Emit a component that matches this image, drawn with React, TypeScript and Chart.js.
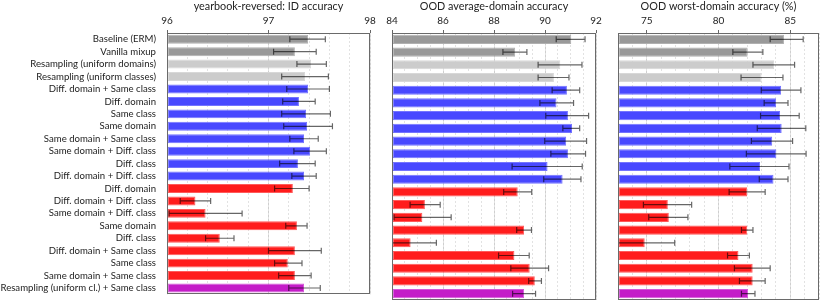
import React, { useEffect, useRef } from 'react';
import { Chart, registerables } from 'chart.js';

Chart.register(...registerables);

const categories = [
  'Baseline (ERM)',
  'Vanilla mixup',
  'Resampling (uniform domains)',
  'Resampling (uniform classes)',
  'Diff. domain + Same class',
  'Diff. domain',
  'Same class',
  'Same domain',
  'Same domain + Same class',
  'Same domain + Diff. class',
  'Diff. class',
  'Diff. domain + Diff. class',
  'Diff. domain',
  'Diff. domain + Diff. class',
  'Same domain + Diff. class',
  'Same domain',
  'Diff. class',
  'Diff. domain + Same class',
  'Same class',
  'Same domain + Same class',
  'Resampling (uniform cl.) + Same class',
];

// group of each row: 0 baseline gray, 1 resampling light gray, 2 blue, 3 red, 4 purple
const rowGroups = [0, 0, 1, 1, 2, 2, 2, 2, 2, 2, 2, 2, 3, 3, 3, 3, 3, 3, 3, 3, 4];
const groupFill = ['#999999', '#cccccc', '#4848ff', '#ff1c1c', '#c41cc8'];
const groupEdge = ['#b0b0b0', '#d8d8d8', '#7474ff', '#ff5a5a', '#d45ad8'];

const idValues = [97.39, 97.26, 97.42, 97.36, 97.39, 97.30, 97.37, 97.38, 97.35, 97.41, 97.29, 97.35, 97.24, 96.28, 96.38, 97.28, 96.52, 97.26, 97.19, 97.26, 97.35];
const idLow = [97.21, 97.05, 97.28, 97.13, 97.18, 97.14, 97.13, 97.15, 97.21, 97.25, 97.11, 97.23, 97.06, 96.13, 96.02, 97.17, 96.38, 97.00, 97.06, 97.10, 97.20];
const idHigh = [97.56, 97.47, 97.57, 97.59, 97.60, 97.46, 97.61, 97.63, 97.49, 97.57, 97.46, 97.47, 97.40, 96.43, 96.74, 97.38, 96.66, 97.52, 97.33, 97.42, 97.51];

const avgValues = [91.03, 88.83, 90.60, 90.35, 90.86, 90.45, 90.90, 91.06, 90.83, 90.90, 90.10, 90.69, 88.93, 85.29, 85.19, 89.18, 84.73, 88.80, 89.40, 89.60, 89.18];
const avgLow = [90.44, 88.35, 89.73, 89.73, 90.28, 89.80, 90.03, 90.70, 89.99, 90.23, 88.71, 89.95, 88.38, 84.71, 84.08, 88.89, 83.72, 88.18, 88.66, 89.36, 88.73];
const avgHigh = [91.57, 89.29, 91.45, 90.94, 91.36, 91.12, 91.71, 91.36, 91.63, 91.59, 91.46, 91.41, 89.48, 85.89, 86.32, 89.47, 85.74, 89.38, 90.14, 89.86, 89.63];

const worstValues = [84.56, 82.03, 83.87, 83.00, 84.36, 84.01, 84.29, 84.40, 83.74, 84.03, 82.89, 83.83, 82.00, 76.47, 76.54, 82.00, 74.86, 81.39, 82.38, 82.38, 82.06];
const worstLow = [83.60, 81.00, 82.40, 81.57, 82.98, 83.18, 82.93, 82.70, 82.29, 81.94, 80.79, 82.84, 80.74, 74.77, 75.14, 81.60, 72.77, 80.63, 81.11, 81.46, 81.60];
const worstHigh = [85.90, 83.09, 85.30, 84.49, 85.74, 84.84, 85.62, 86.08, 85.16, 86.10, 84.91, 84.84, 83.25, 78.13, 77.87, 82.40, 76.95, 82.15, 83.60, 83.25, 82.54];

const titles = ['yearbook-reversed: ID accuracy', 'OOD average-domain accuracy', 'OOD worst-domain accuracy (%)'];
const axisMin = [96, 84, 73];
const axisMax = [98, 92, 87];
const majorStep = [1, 2, 5];
const minorStep = [0.2, 0.5, 1];

const W = 822;
const H = 303;
const FONT = "'Lato', 'Liberation Sans', sans-serif";

const errorBarPlugin = {
  id: 'errorBars',
  afterDatasetsDraw(chart: any, _args: any, opts: any) {
    const { ctx, chartArea } = chart;
    const xs = chart.scales.x;
    const ys = chart.scales.y;
    const low: number[] = opts.low || [];
    const high: number[] = opts.high || [];
    ctx.save();
    ctx.beginPath();
    ctx.rect(chartArea.left, chartArea.top, chartArea.right - chartArea.left, chartArea.bottom - chartArea.top);
    ctx.clip();
    ctx.strokeStyle = 'rgba(0,0,0,0.6)';
    ctx.lineWidth = 1.2;
    low.forEach((l, i) => {
      const yc = ys.getPixelForValue(i);
      const x1 = xs.getPixelForValue(l);
      const x2 = xs.getPixelForValue(high[i]);
      ctx.beginPath();
      ctx.moveTo(x1, yc);
      ctx.lineTo(x2, yc);
      ctx.moveTo(x1, yc - 3);
      ctx.lineTo(x1, yc + 3);
      ctx.moveTo(x2, yc - 3);
      ctx.lineTo(x2, yc + 3);
      ctx.stroke();
    });
    ctx.restore();
  },
};

const framePlugin = {
  id: 'frameBox',
  afterDraw(chart: any) {
    const { ctx, chartArea } = chart;
    ctx.save();
    ctx.strokeStyle = '#6a6a6a';
    ctx.lineWidth = 1;
    ctx.strokeRect(
      Math.round(chartArea.left) + 0.5,
      Math.round(chartArea.top) + 0.5,
      Math.round(chartArea.right - chartArea.left) - 1,
      Math.round(chartArea.bottom - chartArea.top) - 1
    );
    ctx.restore();
  },
};

function isMajor(v: number, step: number) {
  return Math.abs(v - Math.round(v / step) * step) < 1e-6;
}

function makeConfig(i: number, values: number[], low: number[], high: number[], padLeft: number, padRight: number, yWidth: number, showLabels: boolean): any {
  const min = axisMin[i];
  const max = axisMax[i];
  const major = majorStep[i];
  const minor = minorStep[i];
  return {
    type: 'bar',
    data: {
      labels: categories,
      datasets: [
        {
          data: values,
          base: min,
          backgroundColor: rowGroups.map((g) => groupFill[g]),
          borderColor: rowGroups.map((g) => groupEdge[g]),
          borderWidth: 1,
          borderSkipped: false,
          barPercentage: 0.72,
          categoryPercentage: 1,
        },
      ],
    },
    options: {
      indexAxis: 'y',
      animation: false,
      responsive: false,
      maintainAspectRatio: false,
      events: [],
      layout: { padding: { left: padLeft, right: padRight, top: 0, bottom: 3 } },
      plugins: {
        legend: { display: false },
        tooltip: { enabled: false },
        title: { display: false },
        errorBars: { low, high },
      },
      scales: {
        x: {
          position: 'top',
          min,
          max,
          ticks: {
            stepSize: minor,
            autoSkip: false,
            maxRotation: 0,
            padding: 3,
            color: '#222',
            font: { family: FONT, size: 10 },
            callback: (v: any) => (isMajor(Number(v), major) ? String(Math.round(Number(v))) : ''),
          },
          grid: {
            color: (c: any) => (c.tick && isMajor(c.tick.value, major) ? '#cfcfcf' : 'rgba(0,0,0,0)'),
            tickColor: (c: any) => (c.tick && isMajor(c.tick.value, major) ? '#666' : 'rgba(0,0,0,0)'),
            tickLength: 3,
            lineWidth: 1,
          },
          border: { display: false },
          title: {
            display: true,
            text: titles[i],
            color: '#222',
            font: { family: FONT, size: 10.8 },
            padding: { top: 0, bottom: 0 },
          },
          afterFit: (s: any) => {
            s.height = 33;
          },
        },
        xMinor: {
          position: 'bottom',
          min,
          max,
          ticks: { display: false, stepSize: minor, autoSkip: false },
          grid: { color: '#e2e2e2', drawTicks: false, lineWidth: 1 },
          border: { display: false, dash: [2, 2] },
          afterFit: (s: any) => {
            s.height = 0;
          },
        },
        y: {
          ticks: {
            display: showLabels,
            autoSkip: false,
            padding: 3,
            color: '#222',
            font: { family: FONT, size: 9.6 },
          },
          grid: { display: false },
          border: { display: false },
          afterFit: (s: any) => {
            s.width = yWidth;
          },
        },
      },
    },
    plugins: [errorBarPlugin, framePlugin],
  };
}

export default function App() {
  const r1 = useRef<HTMLCanvasElement>(null);
  const r2 = useRef<HTMLCanvasElement>(null);
  const r3 = useRef<HTMLCanvasElement>(null);

  useEffect(() => {
    const charts: Chart[] = [];
    if (r1.current) charts.push(new Chart(r1.current, makeConfig(0, idValues, idLow, idHigh, 0, W - 370, 167, true)));
    if (r2.current) charts.push(new Chart(r2.current, makeConfig(1, avgValues, avgLow, avgHigh, 392, W - 596, 0, false)));
    if (r3.current) charts.push(new Chart(r3.current, makeConfig(2, worstValues, worstLow, worstHigh, 618, W - 820, 0, false)));
    return () => charts.forEach((c) => c.destroy());
  }, []);

  const cs: React.CSSProperties = { position: 'absolute', left: 0, top: 0, width: W, height: H };
  return (
    <div style={{ position: 'absolute', left: 0, top: 0, width: W, height: H, background: '#fff' }}>
      <canvas ref={r1} width={W} height={H} style={cs} />
      <canvas ref={r2} width={W} height={H} style={cs} />
      <canvas ref={r3} width={W} height={H} style={cs} />
    </div>
  );
}
